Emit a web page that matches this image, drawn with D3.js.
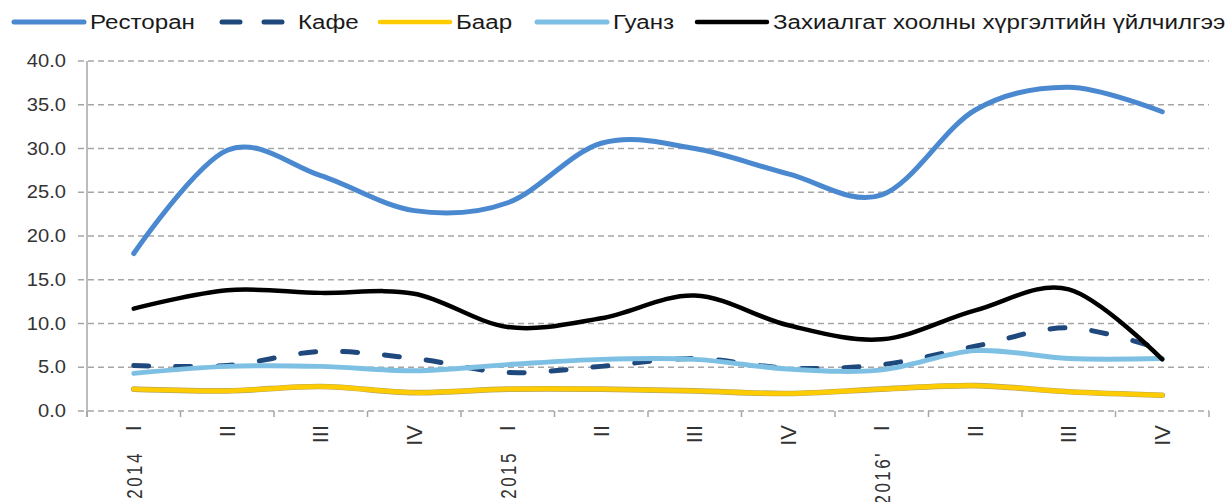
<!DOCTYPE html>
<html>
<head>
<meta charset="utf-8">
<script src="https://cdn.jsdelivr.net/npm/d3@7"></script>
<style>
  body { margin: 0; background: #fff; }
  text { font-family: "Liberation Sans", Arial, sans-serif; }
</style>
</head>
<body>
<div id="chart"></div>
<script>
// data
var quarters = ["I", "II", "III", "IV", "I", "II", "III", "IV", "I", "II", "III", "IV"];
var years = ["2014", "", "", "", "2015", "", "", "", "2016'", "", "", ""];
var yTicks = [0, 5, 10, 15, 20, 25, 30, 35, 40];

var seriesNames = ["Ресторан", "Кафе", "Баар", "Гуанз", "Захиалгат хоолны хүргэлтийн үйлчилгээ"];
var restoran = [18.0, 29.8, 26.9, 22.9, 23.8, 30.6, 30.0, 27.1, 24.7, 34.4, 37.0, 34.2];
var kafe     = [5.2, 5.2, 6.8, 6.0, 4.4, 5.1, 6.0, 4.9, 5.3, 7.4, 9.5, 7.0];
var baar     = [2.5, 2.3, 2.8, 2.1, 2.5, 2.5, 2.3, 2.0, 2.5, 2.9, 2.2, 1.8];
var guanz    = [4.3, 5.1, 5.1, 4.6, 5.3, 5.9, 5.9, 4.8, 4.7, 6.9, 6.0, 6.0];
var delivery = [11.7, 13.8, 13.5, 13.4, 9.6, 10.6, 13.2, 9.8, 8.2, 11.5, 13.9, 5.9];

var seriesValues = [restoran, kafe, baar, guanz, delivery];

// styles
var colors = ["#4A89CF", "#1F497D", "#FFCC00", "#7DC0E3", "#000000"];
var widths = [5, 5, 4.5, 5, 4.5];
var dashes = [null, "15,27", null, null, null];
var legendX = [12, 220, 378, 535, 695];
var stretch = 1.15; // reference text is a bit wider than tall

var svgWidth = 1226;
var svgHeight = 502;

var svg = d3.select("#chart")
  .append("svg")
  .attr("width", svgWidth)
  .attr("height", svgHeight);

var x = d3.scaleBand()
  .domain(d3.range(quarters.length))
  .range([87, 1209]);

var y = d3.scaleLinear()
  .domain([0, 40])
  .range([411, 61]);

var bw = x.bandwidth();

// gridlines
svg.append("g")
  .selectAll("line")
  .data(yTicks)
  .enter()
  .append("line")
  .attr("x1", 78)
  .attr("x2", x.range()[1])
  .attr("y1", d => y(d))
  .attr("y2", d => y(d))
  .attr("stroke", "#a6a6a6")
  .attr("stroke-width", 1.5)
  .attr("stroke-dasharray", "6,4");

// y axis line
svg.append("line")
  .attr("x1", 87).attr("x2", 87)
  .attr("y1", y(40)).attr("y2", y(0) + 6)
  .attr("stroke", "#a6a6a6")
  .attr("stroke-width", 1.5);

// y labels
svg.append("g")
  .selectAll("text")
  .data(yTicks)
  .enter()
  .append("text")
  .attr("transform", d => `translate(66, ${y(d)}) scale(${stretch}, 1)`)
  .attr("dy", "0.35em")
  .attr("text-anchor", "end")
  .style("font-size", "17.5px")
  .style("fill", "#333")
  .text(d3.format(".1f"));

// x tick marks between categories
var bounds = d3.range(quarters.length).map(i => x(i)).concat([x.range()[1]]);
svg.append("g")
  .selectAll("line")
  .data(bounds)
  .enter()
  .append("line")
  .attr("x1", d => d).attr("x2", d => d)
  .attr("y1", y(0)).attr("y2", y(0) + 6)
  .attr("stroke", "#a6a6a6")
  .attr("stroke-width", 1.5);

// quarter labels
svg.append("g")
  .selectAll("text")
  .data(quarters)
  .enter()
  .append("text")
  .attr("transform", (d, i) => `translate(${x(i) + bw / 2}, 425) rotate(-90)`)
  .attr("dy", "0.35em")
  .attr("text-anchor", "end")
  .style("font-size", "22px")
  .style("fill", "#333")
  .text(d => d);

// year labels
svg.append("g")
  .selectAll("text")
  .data(years)
  .enter()
  .append("text")
  .attr("transform", (d, i) => `translate(${x(i) + bw / 2}, 451) rotate(-90) scale(1, 1.35)`)
  .attr("dy", "0.35em")
  .attr("text-anchor", "end")
  .style("font-size", "17px")
  .style("letter-spacing", "2.5px")
  .style("fill", "#333")
  .text(d => d);

// lines
var line = d3.line()
  .x((d, i) => x(i) + bw / 2)
  .y(d => y(d))
  .curve(d3.curveCardinal.tension(0));

seriesValues.forEach(function(vals, k) {
  if (k === 2) {
    // thin darker edge under the yellow line
    svg.append("path")
      .datum(vals)
      .attr("d", line)
      .attr("fill", "none")
      .attr("stroke", "#b9a65a")
      .attr("stroke-width", widths[k] + 1.2)
      .attr("stroke-linecap", "round");
  }
  svg.append("path")
    .datum(vals)
    .attr("d", line)
    .attr("fill", "none")
    .attr("stroke", colors[k])
    .attr("stroke-width", widths[k])
    .attr("stroke-linecap", "round")
    .attr("stroke-dasharray", dashes[k]);
});

// legend
var legend = svg.append("g")
  .selectAll("g")
  .data(seriesNames)
  .enter()
  .append("g")
  .attr("transform", (d, i) => `translate(${legendX[i]}, 22)`);

legend.append("line")
  .attr("x1", 2).attr("x2", 72)
  .attr("stroke", (d, i) => colors[i])
  .attr("stroke-width", (d, i) => widths[i])
  .attr("stroke-linecap", "round")
  .attr("stroke-dasharray", (d, i) => dashes[i] ? "18,24" : null);

legend.append("text")
  .attr("transform", `translate(78, 0) scale(${stretch}, 1)`)
  .attr("dy", "0.35em")
  .style("font-size", "21px")
  .style("fill", "#1a1a1a")
  .text(d => d);
</script>
</body>
</html>
